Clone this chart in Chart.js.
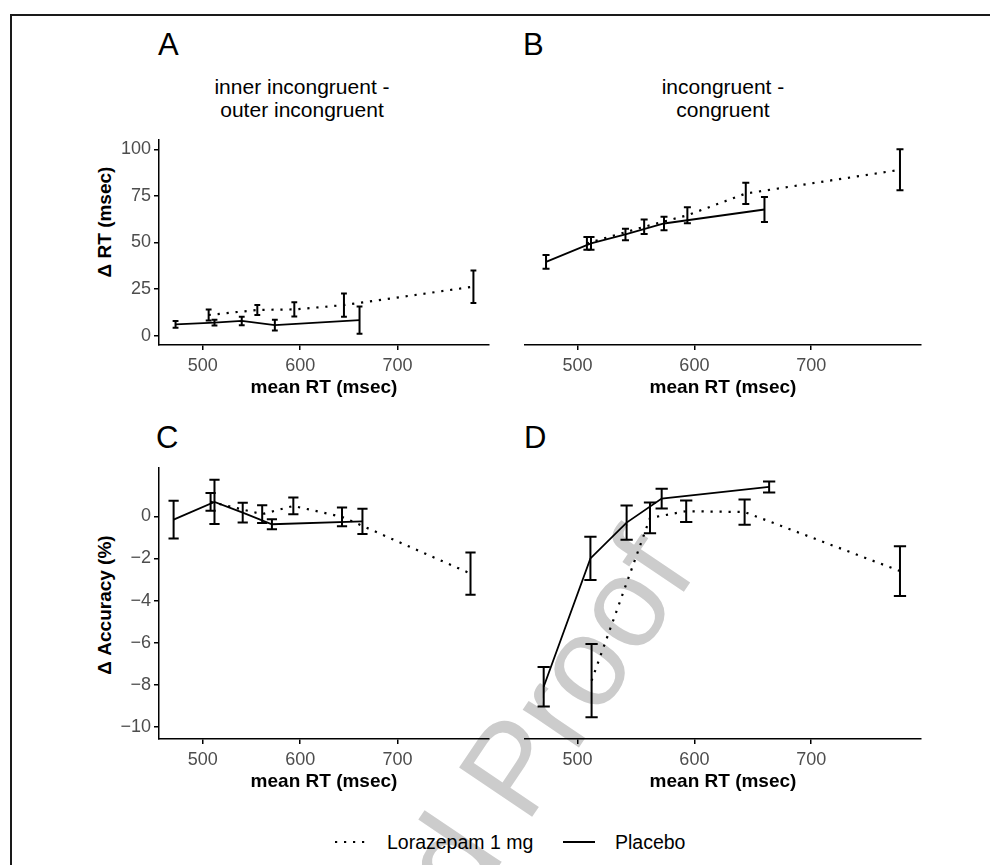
<!DOCTYPE html>
<html>
<head>
<meta charset="utf-8">
<script src="https://cdn.jsdelivr.net/npm/chart.js@4.4.1/dist/chart.umd.min.js"></script>
<style>
  body { margin: 0; background: #fff; font-family: 'Liberation Sans', Arial, sans-serif; }
  #fig { position: relative; width: 990px; height: 865px; overflow: hidden; background: #fff; }
  .frame { position: absolute; left: 10px; top: 14px; width: 1000px; height: 900px; border: 2px solid #1a1a1a; box-sizing: border-box; }
  .mark { position: absolute; font-size: 128px; color: #cccccc; white-space: nowrap; transform: translate(-50%, -50%) rotate(-56deg); }
  .box { position: absolute; }
  .tag { position: absolute; font-size: 31px; line-height: 31px; color: #000; }
  .strip { position: absolute; width: 300px; text-align: center; font-size: 21px; line-height: 23px; color: #000; }
  .ytitle { position: absolute; font-size: 19px; font-weight: bold; white-space: nowrap; transform: translate(-50%, -50%) rotate(-90deg); }
  .leg { position: absolute; font-size: 19.5px; line-height: 22px; color: #000; white-space: nowrap; }
</style>
</head>
<body>
<div id="fig">
  <div class="mark" style="left:545px; top:718px;">d Proof</div>
  <div class="frame"></div>

  <div class="tag" style="left:158px; top:29px;">A</div>
  <div class="tag" style="left:523px; top:29px;">B</div>
  <div class="tag" style="left:156px; top:422px;">C</div>
  <div class="tag" style="left:524px; top:422px;">D</div>

  <div class="strip" style="left:152px; top:75px;">inner incongruent -<br>outer incongruent</div>
  <div class="strip" style="left:573px; top:75px;">incongruent -<br>congruent</div>

  <div class="ytitle" style="left:105px; top:222px;">Δ RT (msec)</div>
  <div class="ytitle" style="left:105px; top:605px;">Δ Accuracy (%)</div>

  <div class="box" style="left:100px; top:124px;"><canvas id="pA" width="401" height="281"></canvas></div>
  <div class="box" style="left:515px; top:124px;"><canvas id="pB" width="418" height="281"></canvas></div>
  <div class="box" style="left:100px; top:452px;"><canvas id="pC" width="401" height="347"></canvas></div>
  <div class="box" style="left:515px; top:452px;"><canvas id="pD" width="418" height="347"></canvas></div>

  <svg class="box" style="left:335px; top:836px;" width="34" height="12">
    <line x1="0" y1="6" x2="34" y2="6" stroke="#000" stroke-width="2.2" stroke-dasharray="2.2 6.8"/>
  </svg>
  <div class="leg" style="left:387px; top:831px;">Lorazepam 1 mg</div>
  <svg class="box" style="left:563px; top:836px;" width="32" height="12">
    <line x1="0" y1="6" x2="32" y2="6" stroke="#000" stroke-width="2"/>
  </svg>
  <div class="leg" style="left:615px; top:831px;">Placebo</div>
</div>

<script>
// shared x axis (mean RT, msec)
const xTicks = [500, 600, 700];
const xMin = 455, xMax = 794;

// y axes: top row delta RT, bottom row delta accuracy
const rtTicks = [0, 25, 50, 75, 100];
const rtMin = -5, rtMax = 105;
const accTicks = [-10, -8, -6, -4, -2, 0];
const accMin = -10.57, accMax = 2.29;

// A: inner incongruent - outer incongruent, delta RT
const aPlaceboX = [472, 512, 540, 574, 661];
const aPlaceboY = [6.1, 7.0, 7.9, 5.7, 8.4];
const aPlaceboErr = [1.8, 1.5, 2.3, 2.9, 7.3];
const aLoraX = [506, 556, 594, 645, 778];
const aLoraY = [11.1, 13.8, 14.1, 16.4, 26.3];
const aLoraErr = [2.9, 2.7, 3.8, 6.2, 8.7];

// B: incongruent - congruent, delta RT
const bPlaceboX = [473, 511.5, 541, 574, 660];
const bPlaceboY = [39.6, 49.5, 54.3, 60.2, 67.7];
const bPlaceboErr = [3.75, 3.4, 3.1, 3.6, 6.7];
const bLoraX = [508, 557, 594, 644, 776];
const bLoraY = [49.5, 58.4, 64.6, 76.3, 89.0];
const bLoraErr = [3.4, 3.9, 4.3, 5.7, 11.0];

// C: inner incongruent - outer incongruent, delta accuracy
const cPlaceboX = [470, 512, 541, 571, 664];
const cPlaceboY = [-0.16, 0.68, 0.17, -0.38, -0.24];
const cPlaceboErr = [0.9, 1.05, 0.47, 0.24, 0.6];
const cLoraX = [508, 561, 593, 643, 775];
const cLoraY = [0.68, 0.1, 0.49, -0.03, -2.72];
const cLoraErr = [0.42, 0.42, 0.4, 0.44, 1.0];

// D: incongruent - congruent, delta accuracy
const dPlaceboX = [471, 511, 542, 572, 664];
const dPlaceboY = [-8.09, -2.0, -0.3, 0.84, 1.39];
const dPlaceboErr = [0.94, 1.03, 0.81, 0.47, 0.26];
const dLoraX = [512, 562, 593, 643, 776];
const dLoraY = [-7.8, -0.08, 0.24, 0.2, -2.6];
const dLoraErr = [1.74, 0.73, 0.51, 0.6, 1.18];

Chart.defaults.font.family = "'Liberation Sans', Arial, sans-serif";

// vertical error bars with caps, width of caps in x data units
const errorBars = {
  id: 'errorBars',
  afterDatasetsDraw(chart, args, opts) {
    const ctx = chart.ctx, x = chart.scales.x, y = chart.scales.y;
    ctx.save();
    ctx.strokeStyle = '#000';
    ctx.lineWidth = 2;
    chart.data.datasets.forEach(ds => {
      ds.data.forEach((p, i) => {
        const e = ds.errors[i];
        const px = x.getPixelForValue(p.x);
        const x0 = x.getPixelForValue(p.x - opts.cap / 2);
        const x1 = x.getPixelForValue(p.x + opts.cap / 2);
        const yt = y.getPixelForValue(p.y + e);
        const yb = y.getPixelForValue(p.y - e);
        ctx.beginPath();
        ctx.moveTo(px, yt); ctx.lineTo(px, yb);
        ctx.moveTo(x0, yt); ctx.lineTo(x1, yt);
        ctx.moveTo(x0, yb); ctx.lineTo(x1, yb);
        ctx.stroke();
      });
    });
    ctx.restore();
  }
};

function pts(xs, ys) {
  return xs.map((v, i) => ({x: v, y: ys[i]}));
}

function panel(id, c) {
  new Chart(document.getElementById(id), {
    type: 'scatter',
    data: {
      datasets: [{
        label: 'Lorazepam 1 mg',
        data: pts(c.lx, c.ly),
        errors: c.le,
        showLine: true,
        borderColor: '#000',
        borderWidth: 2.2,
        borderDash: [2.2, 6.8],
        pointRadius: 0
      }, {
        label: 'Placebo',
        data: pts(c.px, c.py),
        errors: c.pe,
        showLine: true,
        borderColor: '#000',
        borderWidth: 1.8,
        pointRadius: 0
      }]
    },
    options: {
      responsive: false,
      animation: false,
      layout: {padding: c.pad},
      plugins: {
        legend: {display: false},
        tooltip: {enabled: false},
        errorBars: {cap: c.cap}
      },
      scales: {
        x: {
          type: 'linear',
          min: xMin,
          max: xMax,
          afterBuildTicks: s => { s.ticks = xTicks.map(v => ({value: v})); },
          afterFit: s => { s.height = 60; },
          grid: {drawOnChartArea: false, color: '#000', lineWidth: 1.5, tickLength: 5},
          border: {color: '#000', width: 1.5},
          ticks: {color: '#4d4d4d', font: {size: 18}, padding: 5, maxRotation: 0},
          title: {display: true, text: 'mean RT (msec)', color: '#000',
                  font: {size: 19, weight: 'bold'}, padding: {top: 0, bottom: 6}}
        },
        y: {
          type: 'linear',
          min: c.ymin,
          max: c.ymax,
          display: c.showY,
          afterBuildTicks: s => { s.ticks = c.yt.map(v => ({value: v})); },
          afterFit: s => { if (c.showY) s.width = 59; },
          grid: {drawOnChartArea: false, color: '#000', lineWidth: 1.5, tickLength: 5},
          border: {color: '#000', width: 1.5},
          ticks: {color: '#4d4d4d', font: {size: 18}, padding: 3,
                  callback: v => String(v).replace('-', '\u2212')}
        }
      }
    },
    plugins: [errorBars]
  });
}

panel('pA', {lx: aLoraX, ly: aLoraY, le: aLoraErr, px: aPlaceboX, py: aPlaceboY, pe: aPlaceboErr,
  ymin: rtMin, ymax: rtMax, yt: rtTicks, showY: true, cap: 6, pad: {top: 16, right: 12, left: 0, bottom: 0}});
panel('pB', {lx: bLoraX, ly: bLoraY, le: bLoraErr, px: bPlaceboX, py: bPlaceboY, pe: bPlaceboErr,
  ymin: rtMin, ymax: rtMax, yt: rtTicks, showY: false, cap: 6, pad: {top: 16, right: 12, left: 10, bottom: 0}});
panel('pC', {lx: cLoraX, ly: cLoraY, le: cLoraErr, px: cPlaceboX, py: cPlaceboY, pe: cPlaceboErr,
  ymin: accMin, ymax: accMax, yt: accTicks, showY: true, cap: 10.5, pad: {top: 16, right: 12, left: 0, bottom: 0}});
panel('pD', {lx: dLoraX, ly: dLoraY, le: dLoraErr, px: dPlaceboX, py: dPlaceboY, pe: dPlaceboErr,
  ymin: accMin, ymax: accMax, yt: accTicks, showY: false, cap: 10.5, pad: {top: 16, right: 12, left: 10, bottom: 0}});
</script>
</body>
</html>
